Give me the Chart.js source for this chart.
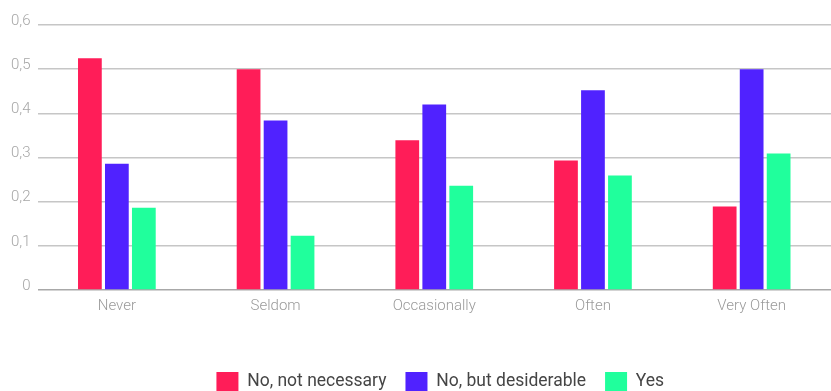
<!DOCTYPE html>
<html>
<head>
<meta charset="utf-8">
<script src="https://cdn.jsdelivr.net/npm/chart.js@4/dist/chart.umd.min.js"></script>
<style>
  html, body { margin: 0; padding: 0; background: #fff; overflow: hidden; }
  #wrap { width: 831px; height: 401px; position: relative; }
</style>
</head>
<body>
<div id="wrap"><canvas id="chart"></canvas></div>
<script>
// Frequency categories on the x axis
const categories = ['Never', 'Seldom', 'Occasionally', 'Often', 'Very Often'];

// Share of answers per category for each response
const notNecessary = [0.525, 0.50, 0.339, 0.293, 0.189];
const butDesirable = [0.286, 0.384, 0.420, 0.452, 0.50];
const yesAnswers   = [0.186, 0.123, 0.236, 0.259, 0.309];

const seriesNames = ['No, not necessary', 'No, but desiderable', 'Yes'];
const seriesColors = ['#FF1D58', '#5022FF', '#20FF9C'];

// Leave room between the category labels and the legend
const xAxisGap = 31;
// Nudge the legend row a little to the right
const legendShift = 6;

const legendNudge = {
  id: 'legendNudge',
  afterLayout(chart) {
    if (chart.legend) {
      chart.legend.left += legendShift;
      chart.legend.right += legendShift;
    }
  }
};

const ctx = document.getElementById('chart');
new Chart(ctx, {
  type: 'bar',
  data: {
    labels: categories,
    datasets: [notNecessary, butDesirable, yesAnswers].map((values, i) => ({
      label: seriesNames[i],
      data: values,
      backgroundColor: seriesColors[i],
      borderWidth: 0
    }))
  },
  plugins: [legendNudge],
  options: {
    responsive: true,
    maintainAspectRatio: false,
    animation: false,
    layout: { padding: { top: 25, left: 4, right: 0, bottom: 0 } },
    datasets: {
      bar: { categoryPercentage: 0.51, barPercentage: 0.88 }
    },
    scales: {
      x: {
        grid: { display: false, drawTicks: false },
        border: { display: false },
        ticks: {
          color: '#9a9a9a',
          font: { family: 'Roboto', size: 15, weight: '300' },
          padding: 7,
          maxRotation: 0
        },
        afterFit(scale) { scale.height += xAxisGap; }
      },
      y: {
        min: 0,
        max: 0.6,
        grid: {
          drawTicks: false,
          color: (c) => c.tick && c.tick.value === 0 ? '#a8a8a8' : '#c6c6c6',
          lineWidth: 1.5
        },
        border: { display: false },
        ticks: {
          stepSize: 0.1,
          color: '#a6a6a6',
          padding: 7,
          labelOffset: -4,
          font: { family: 'Roboto', size: 15, weight: '300' },
          callback: (v) => (Math.round(v * 10) / 10).toString().replace('.', ',')
        }
      }
    },
    plugins: {
      tooltip: { enabled: false },
      legend: {
        position: 'bottom',
        fullSize: false,
        labels: {
          boxWidth: 22,
          boxHeight: 19,
          padding: 19,
          color: '#454545',
          font: { family: 'Roboto', size: 17.5 }
        }
      }
    }
  }
});
</script>
</body>
</html>
